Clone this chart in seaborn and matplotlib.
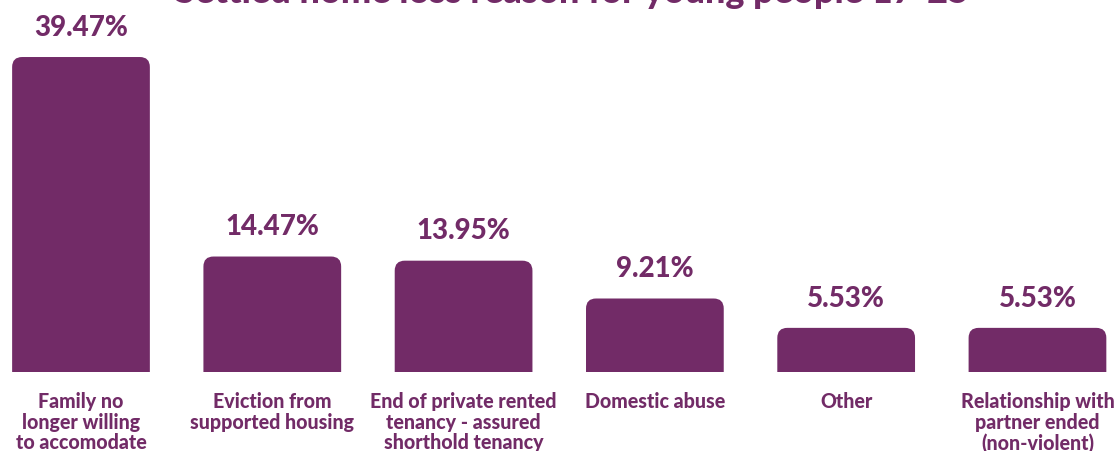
import matplotlib
matplotlib.use("Agg")
import matplotlib.pyplot as plt
from matplotlib.patches import FancyBboxPatch
import seaborn as sns
import pandas as pd

categories = [
    "Family no\nlonger willing\nto accomodate",
    "Eviction from\nsupported housing",
    "End of private rented\ntenancy - assured\nshorthold tenancy",
    "Domestic abuse",
    "Other",
    "Relationship with\npartner ended\n(non-violent)",
]
values = [39.47, 14.47, 13.95, 9.21, 5.53, 5.53]
value_labels = ["39.47%", "14.47%", "13.95%", "9.21%", "5.53%", "5.53%"]
title = "Settled home loss reason for young people 17-25"

PURPLE = "#722B67"

sns.set_theme(style="white")
plt.rcParams["font.family"] = ["Lato", "DejaVu Sans"]

W, H, DPI = 11.18, 4.52, 100
fig = plt.figure(figsize=(W, H), dpi=DPI)
ax = fig.add_axes([0, 79 / 452, 1, 373 / 452])

df = pd.DataFrame({"reason": categories, "share": values})
sns.barplot(data=df, x="reason", y="share", color=PURPLE, width=0.72,
            saturation=1, ax=ax)

# axis ranges: category spacing ~191 px, ~8 px per percentage point
ax.set_xlim(-0.4234, 5.421)
ax.set_ylim(0, 46.74)

# swap the square bars for bars with rounded top corners
fig.canvas.draw()
px_per_x = ax.transData.transform((1, 0))[0] - ax.transData.transform((0, 0))[0]
px_per_y = ax.transData.transform((0, 1))[1] - ax.transData.transform((0, 0))[1]
radius_px = 10
for bar in list(ax.patches):
    x0, w, h = bar.get_x(), bar.get_width(), bar.get_height()
    bar.remove()
    extra = 3.0
    rb = FancyBboxPatch(
        (x0, -extra), w, h + extra,
        boxstyle=f"round,pad=0,rounding_size={radius_px / px_per_x}",
        mutation_aspect=px_per_x / px_per_y,
        facecolor=PURPLE, edgecolor="none", clip_on=True,
    )
    ax.add_patch(rb)

for i, (v, lab) in enumerate(zip(values, value_labels)):
    ax.annotate(lab, (i, v), xytext=(0, 16), textcoords="offset points",
                ha="center", va="baseline", fontsize=20, fontweight="black",
                color=PURPLE)

ax.set_xlabel("")
ax.set_ylabel("")
ax.set_yticks([])
ax.tick_params(axis="x", length=0, pad=14)
ax.set_xticks(range(len(categories)))
ax.set_xticklabels(categories, fontsize=14.1, fontweight="black", color=PURPLE,
                   linespacing=1.08, va="top")
for s in ax.spines.values():
    s.set_visible(False)

fig.text(572 / 1118, 1 - 3 / 452, title, ha="center", va="baseline",
         fontsize=26, fontweight="black", color=PURPLE)

fig.savefig("out.png", dpi=DPI)
